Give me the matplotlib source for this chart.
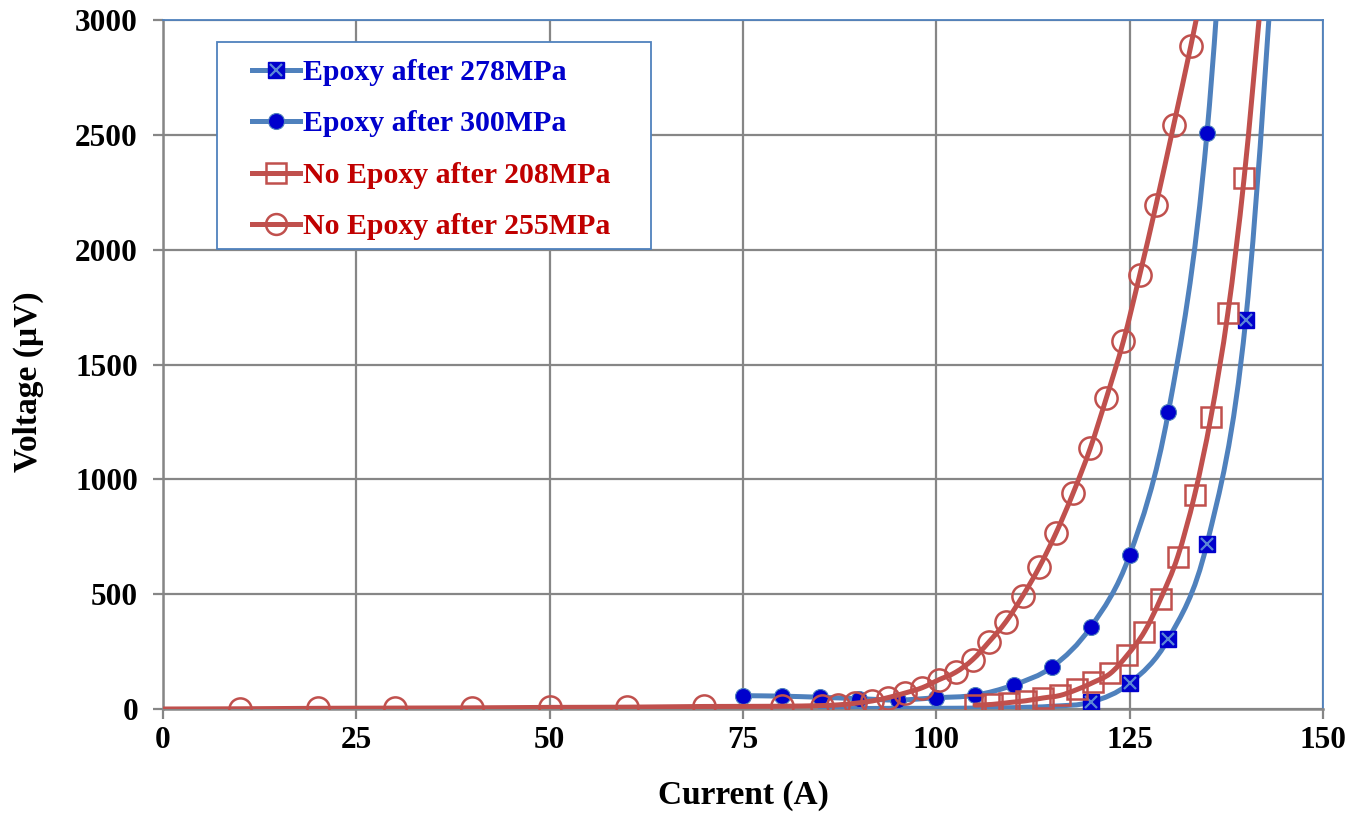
import numpy as np
import matplotlib
matplotlib.use("Agg")
import matplotlib.pyplot as plt
from matplotlib.path import Path
from matplotlib.patches import PathPatch, Rectangle
from matplotlib.lines import Line2D

# --- data (current in A, voltage in uV) ---
# the last point of each series sits above the 3000 uV axis limit (clipped)
EP278_I = [85, 90, 95, 100, 105, 110, 115, 120, 125, 130, 135, 140, 145]
EP278_V = [2, 2, 3, 3, 4, 6, 12, 30, 112, 305, 720, 1692, 3970]
EP278_FIRST_MARK = 7  # lower points have no visible marker

EP300_I = [75, 80, 85, 90, 95, 100, 105, 110, 115, 120, 125, 130, 135, 140]
EP300_V = [58, 56, 51, 45, 39, 49, 60, 105, 184, 358, 670, 1292, 2508, 5000]

NE208_I = [105, 107.2, 109.4, 111.6, 113.8, 116.0, 118.2, 120.3, 122.5, 124.7,
           126.9, 129.0, 131.2, 133.4, 135.5, 137.7, 139.8, 142.0]
NE208_V = [17, 20, 28, 36, 48, 59, 85, 116, 155, 235,
           336, 480, 662, 932, 1270, 1725, 2312, 3100]

NE255_I = [0, 10, 20, 30, 40, 50, 60, 70, 80, 85.2, 87.3, 89.5, 91.7, 93.8,
           96.0, 98.2, 100.3, 102.5, 104.7, 106.8, 109.0, 111.2, 113.3, 115.5,
           117.7, 119.9, 122.0, 124.2, 126.3, 128.4, 130.7, 132.9, 135.1]
NE255_V = [0, 1, 3, 4, 5, 7, 8, 11, 12, 15, 18, 25, 35, 50,
           70, 93, 127, 160, 215, 292, 380, 494, 617, 768,
           941, 1135, 1356, 1603, 1890, 2193, 2544, 2886, 3250]

LABELS = ["Epoxy after 278MPa", "Epoxy after 300MPa",
          "No Epoxy after 208MPa", "No Epoxy after 255MPa"]
X_TICKS = [0, 25, 50, 75, 100, 125, 150]
Y_TICKS = [0, 500, 1000, 1500, 2000, 2500, 3000]

BLUE_LINE = "#4F81BD"
BLUE_MARK = "#0000CC"
RED_LINE = "#C0504D"
BLUE_TEXT = "#0000CC"
RED_TEXT = "#C00000"
GRID = "#868686"

plt.rcParams["font.family"] = ["Liberation Serif", "DejaVu Serif"]
plt.rcParams["font.weight"] = "bold"


def smooth_line(ax, xs, ys, color, lw, z):
    # smoothed curve through the points (like a spreadsheet "smoothed line")
    xs = np.asarray(xs, float)
    ys = np.asarray(ys, float)
    m = np.empty(len(xs))
    m[0] = (ys[1] - ys[0]) / (xs[1] - xs[0])
    m[-1] = (ys[-1] - ys[-2]) / (xs[-1] - xs[-2])
    m[1:-1] = (ys[2:] - ys[:-2]) / (xs[2:] - xs[:-2])
    verts = [(xs[0], ys[0])]
    codes = [Path.MOVETO]
    for i in range(len(xs) - 1):
        h = xs[i + 1] - xs[i]
        verts += [(xs[i] + h / 3, ys[i] + m[i] * h / 3),
                  (xs[i + 1] - h / 3, ys[i + 1] - m[i + 1] * h / 3),
                  (xs[i + 1], ys[i + 1])]
        codes += [Path.CURVE4] * 3
    ax.add_patch(PathPatch(Path(verts, codes), fill=False, edgecolor=color,
                           lw=lw, zorder=z, capstyle="round", joinstyle="round"))


fig = plt.figure(figsize=(13.5, 8.13), dpi=100)
ax = fig.add_axes([163 / 1350, 1 - 709 / 813, 1160 / 1350, 689 / 813])

LW = 3.6

# Epoxy after 278MPa
smooth_line(ax, EP278_I, EP278_V, BLUE_LINE, LW, 3)
ax.plot(EP278_I[EP278_FIRST_MARK:], EP278_V[EP278_FIRST_MARK:], ls="none",
        marker="s", ms=11, mfc=BLUE_MARK, mec=BLUE_MARK, zorder=3.1)
ax.plot(EP278_I[EP278_FIRST_MARK:], EP278_V[EP278_FIRST_MARK:], ls="none",
        marker="x", ms=9, mec="#5B86D6", mew=1.6, zorder=3.2)

# Epoxy after 300MPa
smooth_line(ax, EP300_I, EP300_V, BLUE_LINE, LW, 4)
ax.plot(EP300_I, EP300_V, ls="none", marker="o", ms=11.5, mfc=BLUE_MARK,
        mec=BLUE_LINE, mew=0.8, zorder=4.1)

# No Epoxy after 208MPa
smooth_line(ax, NE208_I, NE208_V, RED_LINE, LW, 5)
ax.plot(NE208_I, NE208_V, ls="none", marker="s", ms=15, mfc="none",
        mec=RED_LINE, mew=1.8, zorder=5.1)

# No Epoxy after 255MPa (no marker on the origin point)
smooth_line(ax, NE255_I, NE255_V, RED_LINE, LW, 6)
ax.plot(NE255_I[1:], NE255_V[1:], ls="none", marker="o", ms=16, mfc="none",
        mec=RED_LINE, mew=1.8, zorder=6.1)

ax.set_xlim(0, 150)
ax.set_ylim(0, 3000)
ax.set_xticks(X_TICKS)
ax.set_yticks(Y_TICKS)
ax.grid(True, color=GRID, lw=1.6, zorder=0)
ax.set_axisbelow(True)
for side in ["left", "bottom"]:
    ax.spines[side].set_color(GRID)
    ax.spines[side].set_linewidth(1.8)
for side in ["top", "right"]:
    ax.spines[side].set_color(BLUE_LINE)
    ax.spines[side].set_linewidth(1.3)
ax.tick_params(axis="both", direction="out", length=7, width=1.6, color=GRID,
               labelsize=22.5)
ax.tick_params(axis="y", pad=11)
ax.tick_params(axis="x", pad=5)
for lab in ax.get_xticklabels() + ax.get_yticklabels():
    lab.set_fontweight("bold")

fig.text(743 / 1350, 1 - 795 / 813, "Current (A)", ha="center", va="center",
         fontsize=24, fontweight="bold")
fig.text(28 / 1350, 1 - 382 / 813, "Voltage (\u00b5V)", ha="center",
         va="center", rotation=90, fontsize=24, fontweight="bold")

# legend frame drawn separately so the padding can match
ax.add_patch(Rectangle((217 / 1350, 1 - 249 / 813), 434 / 1350, 207 / 813,
                       transform=fig.transFigure, facecolor="white",
                       edgecolor=BLUE_LINE, lw=1.3, zorder=10, clip_on=False))

h278 = (Line2D([], [], color=BLUE_LINE, lw=LW, marker="s", ms=11,
               mfc=BLUE_MARK, mec=BLUE_MARK),
        Line2D([], [], ls="none", marker="x", ms=9, mec="#5B86D6", mew=1.6))
h300 = Line2D([], [], color=BLUE_LINE, lw=LW, marker="o", ms=11.5,
              mfc=BLUE_MARK, mec=BLUE_LINE, mew=0.8)
h208 = Line2D([], [], color=RED_LINE, lw=LW, marker="s", ms=14, mfc="none",
              mec=RED_LINE, mew=1.8)
h255 = Line2D([], [], color=RED_LINE, lw=LW, marker="o", ms=15, mfc="none",
              mec=RED_LINE, mew=1.8)

leg = fig.legend([h278, h300, h208, h255], LABELS, loc="upper left",
                 bbox_to_anchor=(252 / 1350, 1 - 59 / 813), frameon=False,
                 borderpad=0, borderaxespad=0, handlelength=1.6,
                 handletextpad=0.1, labelspacing=0.82,
                 prop={"size": 21.5, "weight": "bold"})
leg.set_zorder(11)
for txt, col in zip(leg.get_texts(), [BLUE_TEXT, BLUE_TEXT, RED_TEXT, RED_TEXT]):
    txt.set_color(col)

fig.savefig("out.png", dpi=100)
